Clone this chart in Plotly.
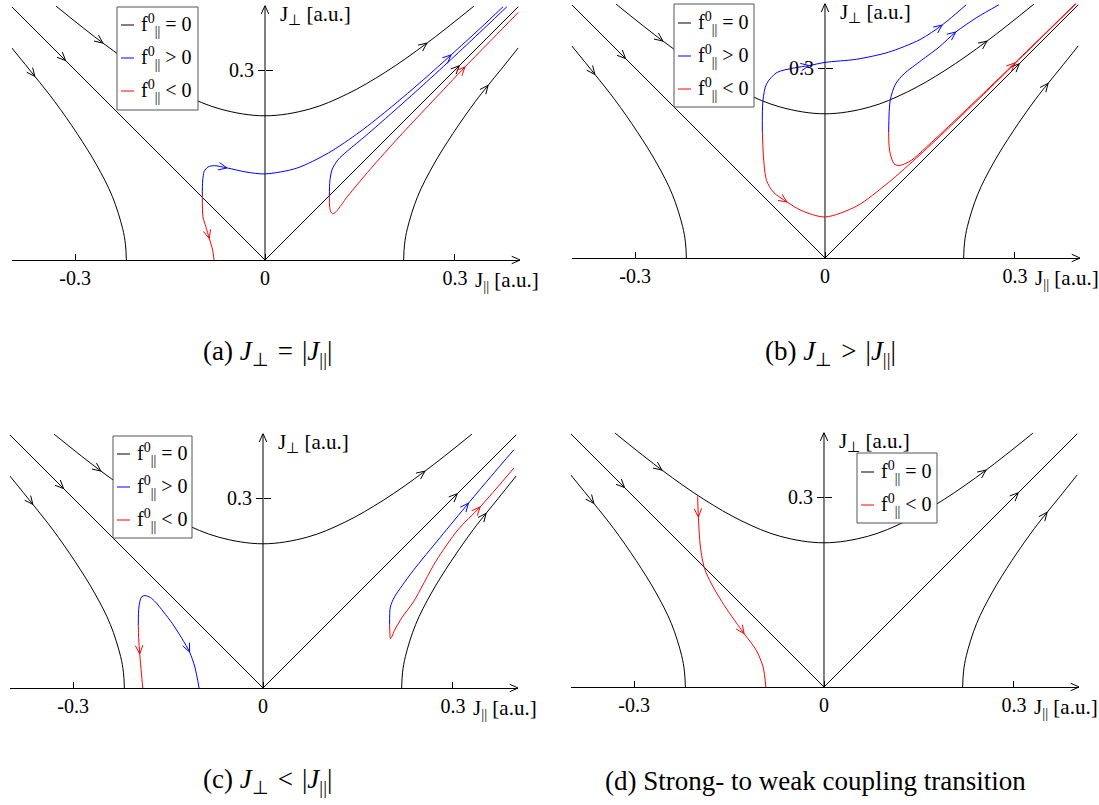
import math
import plotly.graph_objects as go

# ---------------- data (J_parallel, J_perp) ----------------
# black flow lines, identical in all four panels
UPPER_X = [-0.33, -0.256, -0.19, -0.13, -0.07, 0.0, 0.07, 0.13, 0.19, 0.256, 0.33]
UPPER_Y = [0.401, 0.3427, 0.2966, 0.2623, 0.2383, 0.2278, 0.2383, 0.2623, 0.2966, 0.3427, 0.401]
DIAG_X = [-0.4, -0.315, 0.0, 0.307, 0.4]
DIAG_Y = [0.4, 0.315, 0.0, 0.307, 0.4]
LEFT_X = [-0.400, -0.3635, -0.332, -0.297, -0.266, -0.241, -0.225, -0.2205, -0.219]
LEFT_Y = [0.335, 0.29, 0.25, 0.2, 0.15, 0.1, 0.05, 0.025, 0.0]
RIGHT_X = [0.219, 0.2205, 0.225, 0.241, 0.266, 0.297, 0.332, 0.3525, 0.372, 0.400]
RIGHT_Y = [0.0, 0.025, 0.05, 0.1, 0.15, 0.2, 0.25, 0.276, 0.3, 0.335]

# panel (a)
A_BLUE1_X = [-0.099, -0.0985, -0.096, -0.090, -0.080, -0.060, -0.030, 0.0, 0.05, 0.10, 0.15, 0.20, 0.25, 0.294, 0.34, 0.376]
A_BLUE1_Y = [0.100, 0.125, 0.140, 0.147, 0.149, 0.1455, 0.139, 0.136, 0.145, 0.169, 0.2025, 0.242, 0.2846, 0.324, 0.366, 0.400]
A_BLUE2_X = [0.1017, 0.1025, 0.106, 0.115, 0.13, 0.16, 0.2, 0.25, 0.3, 0.35, 0.382]
A_BLUE2_Y = [0.100, 0.125, 0.143, 0.158, 0.172, 0.197, 0.232, 0.2766, 0.3225, 0.3695, 0.400]
A_RED1_X = [-0.099, -0.098, -0.0935, -0.088, -0.0827, -0.0805]
A_RED1_Y = [0.100, 0.068, 0.0527, 0.034, 0.0158, 0.0]
A_RED2_X = [0.1017, 0.102, 0.104, 0.107, 0.111, 0.114, 0.130, 0.172, 0.217, 0.264, 0.316, 0.36, 0.400]
A_RED2_Y = [0.100, 0.085, 0.076, 0.073, 0.075, 0.078, 0.100, 0.150, 0.200, 0.250, 0.305, 0.350, 0.391]

# panel (b)
B_BLUE1_X = [-0.099, -0.098, -0.0924, -0.076, -0.050, -0.025, 0.0, 0.05, 0.10, 0.15, 0.185, 0.223]
B_BLUE1_Y = [0.199, 0.249, 0.275, 0.293, 0.300, 0.304, 0.309, 0.314, 0.325, 0.345, 0.368, 0.400]
B_BLUE2_X = [0.1006, 0.103, 0.1115, 0.125, 0.152, 0.18, 0.2066, 0.24, 0.2746]
B_BLUE2_Y = [0.199, 0.249, 0.275, 0.291, 0.312, 0.333, 0.357, 0.38, 0.400]
B_RED1_X = [-0.099, -0.0968, -0.0924, -0.0816, -0.060, -0.038, 0.0, 0.05, 0.10, 0.15, 0.20, 0.25, 0.30, 0.35, 0.397]
B_RED1_Y = [0.199, 0.154, 0.1227, 0.104, 0.0885, 0.0753, 0.0648, 0.082, 0.119, 0.163, 0.210, 0.258, 0.307, 0.356, 0.402]
B_RED2_X = [0.1006, 0.101, 0.103, 0.109, 0.117, 0.136, 0.16, 0.20, 0.25, 0.30, 0.35, 0.397]
B_RED2_Y = [0.199, 0.18, 0.165, 0.149, 0.146, 0.154, 0.175, 0.2124, 0.2599, 0.3083, 0.357, 0.403]

# panel (c)
C_BLUE1_X = [-0.197, -0.196, -0.192, -0.1865, -0.178, -0.170, -0.157, -0.143, -0.128, -0.116, -0.1077, -0.101]
C_BLUE1_Y = [0.099, 0.128, 0.1438, 0.146, 0.143, 0.136, 0.12, 0.1016, 0.078, 0.0569, 0.0332, 0.0]
C_BLUE2_X = [0.200, 0.2012, 0.2077, 0.22, 0.2376, 0.28, 0.3246, 0.36, 0.3964]
C_BLUE2_Y = [0.100, 0.128, 0.1438, 0.162, 0.186, 0.238, 0.292, 0.334, 0.3765]
C_RED1_X = [-0.197, -0.1965, -0.1947, -0.192, -0.190]
C_RED1_Y = [0.099, 0.08, 0.054, 0.0226, 0.0]
C_RED2_X = [0.200, 0.2005, 0.2012, 0.204, 0.2077, 0.22, 0.2376, 0.273, 0.308, 0.343, 0.3964]
C_RED2_Y = [0.100, 0.086, 0.078, 0.082, 0.091, 0.112, 0.136, 0.2, 0.25, 0.286, 0.3475]

# panel (d)
D_RED_X = [-0.1996, -0.1985, -0.1952, -0.1887, -0.1778, -0.156, -0.1262, -0.107, -0.0962, -0.0919]
D_RED_Y = [0.301, 0.2686, 0.221, 0.187, 0.163, 0.1264, 0.0843, 0.058, 0.0316, 0.0]

X_TICKS = [-0.3, 0.0, 0.3]
X_TICK_TEXT = ["-0.3", "0", "0.3"]
Y_TICKS = [0.3]
Y_TICK_TEXT = ["0.3"]

LBL_ZERO = "f<sup>0</sup><sub>||</sub> = 0"
LBL_POS = "f<sup>0</sup><sub>||</sub> > 0"
LBL_NEG = "f<sup>0</sup><sub>||</sub> < 0"
XLABEL = "J<sub>||</sub> [a.u.]"
YLABEL = "J<sub>\u22a5</sub> [a.u.]"
CAPTIONS = [
    "(a) <i>J</i><sub>\u22a5</sub>\u2004=\u2004|<i>J</i><sub>||</sub>|",
    "(b) <i>J</i><sub>\u22a5</sub>\u2004>\u2004|<i>J</i><sub>||</sub>|",
    "(c) <i>J</i><sub>\u22a5</sub>\u2004<\u2004|<i>J</i><sub>||</sub>|",
    "(d) Strong- to weak coupling transition",
]

# ---------------- layout ----------------
W, H = 1099, 805
SCALE = 633.0           # pixels per data unit (equal on both axes)
XMIN, XMAX, YMAX = -0.4, 0.403, 0.402
YPAD = 0.012            # room below J_perp = 0 for the axis arrowhead
FONT = "Liberation Serif"
BLACK, BLUE, RED = "#000000", "#0000ff", "#ff0000"
HEAD_LEN = 0.0145       # arrowhead arm length (data units)
HEAD_HALF = math.radians(24)

BLACK_CURVES = [
    (UPPER_X, UPPER_Y, [1, 9], "spline"),
    (DIAG_X, DIAG_Y, [1, 3], "linear"),
    (LEFT_X, LEFT_Y, [1], "spline"),
    (RIGHT_X, RIGHT_Y, [7], "spline"),
]

PANELS = [
    dict(origin=(265, 260), caption_px=(267, 353),
         legend_box=(117, 7, 198, 110), legend_rows=[25, 58, 91], legend_x=121,
         blue=[(A_BLUE1_X, A_BLUE1_Y, [5, 13]), (A_BLUE2_X, A_BLUE2_Y, [])],
         red=[(A_RED1_X, A_RED1_Y, [3]), (A_RED2_X, A_RED2_Y, [10])]),
    dict(origin=(825, 258), caption_px=(830, 353),
         legend_box=(674, 4, 754, 107), legend_rows=[23, 56, 89], legend_x=678,
         blue=[(B_BLUE1_X, B_BLUE1_Y, [5, 10]), (B_BLUE2_X, B_BLUE2_Y, [6])],
         red=[(B_RED1_X, B_RED1_Y, [4]), (B_RED2_X, B_RED2_Y, [9])]),
    dict(origin=(263, 688), caption_px=(267, 781),
         legend_box=(113, 436, 192, 538), legend_rows=[454, 487, 520], legend_x=117,
         blue=[(C_BLUE1_X, C_BLUE1_Y, [9]), (C_BLUE2_X, C_BLUE2_Y, [6])],
         red=[(C_RED1_X, C_RED1_Y, [2]), (C_RED2_X, C_RED2_Y, [9])]),
    dict(origin=(824, 687), caption_px=(815, 781),
         legend_box=(857, 453, 937, 523), legend_rows=[472, 505], legend_x=861,
         blue=[],
         red=[(D_RED_X, D_RED_Y, [1, 6])]),
]


def head(px, py, ang, hx, hy):
    """open chevron at (px, py) pointing along angle ang"""
    hx += [px - HEAD_LEN * math.cos(ang + HEAD_HALF), px,
           px - HEAD_LEN * math.cos(ang - HEAD_HALF), None]
    hy += [py - HEAD_LEN * math.sin(ang + HEAD_HALF), py,
           py - HEAD_LEN * math.sin(ang - HEAD_HALF), None]


def heads_on(xs, ys, idxs, hx, hy):
    for i in idxs:
        ang = math.atan2(ys[i + 1] - ys[i - 1], xs[i + 1] - xs[i - 1])
        head(xs[i], ys[i], ang, hx, hy)


fig = go.Figure()
annotations = []
shapes = []
layout_axes = {}
tickfont = dict(family=FONT, size=20, color=BLACK)

for k, p in enumerate(PANELS):
    n = k + 1
    sfx = "" if n == 1 else str(n)
    xr, yr = "x" + sfx, "y" + sfx
    yl, yrt = "y" + str(4 + n), "y" + str(8 + n)
    ox, oy = p["origin"]
    xd = [(ox + XMIN * SCALE) / W, (ox + XMAX * SCALE) / W]
    ytop = 1 - (oy - YMAX * SCALE) / H
    yd_plot = [1 - (oy + YPAD * SCALE) / H, ytop]
    yd_axis = [1 - oy / H, ytop]

    groups = [(BLACK, LBL_ZERO, [(c[0], c[1], c[2], c[3]) for c in BLACK_CURVES]),
              (BLUE, LBL_POS, [(c[0], c[1], c[2], "spline") for c in p["blue"]]),
              (RED, LBL_NEG, [(c[0], c[1], c[2], "spline") for c in p["red"]])]
    legend_entries = []
    for color, label, curves in groups:
        if not curves:
            continue
        legend_entries.append((color, label))
        hx, hy = [], []
        for xs, ys, arr, shape in curves:
            fig.add_trace(go.Scatter(
                x=xs, y=ys, mode="lines", xaxis=xr, yaxis=yr,
                line=dict(color=color, width=1, shape=shape,
                          smoothing=1.0 if color == BLACK else 0.8),
                name=label, showlegend=False, hoverinfo="skip"))
            heads_on(xs, ys, arr, hx, hy)
        if color == BLACK:
            head(XMAX, 0.0, 0.0, hx, hy)            # J_par axis arrow
            head(0.0, YMAX, math.pi / 2, hx, hy)    # J_perp axis arrow
            fig.add_trace(go.Scatter(x=[0.0, 0.0], y=[0.0, YMAX], mode="lines", xaxis=xr,
                                     yaxis=yr, line=dict(color=BLACK, width=1),
                                     showlegend=False, hoverinfo="skip"))
        if hx:
            fig.add_trace(go.Scatter(x=hx, y=hy, mode="lines", xaxis=xr, yaxis=yr,
                                     line=dict(color=color, width=1), showlegend=False,
                                     hoverinfo="skip", connectgaps=False))

    # empty traces so the tick-only J_perp axes exist
    for ya in (yl, yrt):
        fig.add_trace(go.Scatter(x=[None], y=[None], xaxis=xr, yaxis=ya, mode="lines",
                                 line=dict(color=BLACK, width=1),
                                 showlegend=False, hoverinfo="skip"))

    layout_axes["xaxis" + sfx] = dict(
        domain=xd, range=[XMIN, XMAX], anchor="free", position=1 - oy / H,
        showgrid=False, zeroline=False, showline=True, linecolor=BLACK, linewidth=1,
        ticks="inside", ticklen=6, tickcolor=BLACK, tickvals=X_TICKS, ticktext=X_TICK_TEXT,
        tickfont=tickfont, fixedrange=True)
    layout_axes["yaxis" + sfx] = dict(
        domain=yd_plot, range=[-YPAD, YMAX], anchor=xr, visible=False, fixedrange=True)
    layout_axes["yaxis" + str(4 + n)] = dict(
        domain=yd_axis, range=[0, YMAX], anchor="free", position=ox / W, side="left",
        showgrid=False, zeroline=False, showline=False, ticks="outside", ticklen=7,
        tickcolor=BLACK, tickvals=Y_TICKS, ticktext=Y_TICK_TEXT, tickfont=tickfont,
        fixedrange=True)
    layout_axes["yaxis" + str(8 + n)] = dict(
        domain=yd_axis, range=[0, YMAX], anchor="free", position=ox / W, side="right",
        showgrid=False, zeroline=False, showline=False, ticks="outside", ticklen=7,
        tickcolor=BLACK, tickvals=Y_TICKS, showticklabels=False, fixedrange=True)

    # axis titles
    annotations.append(dict(x=0.02, y=0.387, xref=xr, yref=yr, text=YLABEL, showarrow=False,
                            xanchor="left", yanchor="middle",
                            font=dict(family=FONT, size=21, color=BLACK)))
    annotations.append(dict(x=0.328, y=0.0, yshift=-21, xref=xr, yref=yr, text=XLABEL,
                            showarrow=False, xanchor="left", yanchor="middle",
                            font=dict(family=FONT, size=21, color=BLACK)))
    # caption
    cx, cy = p["caption_px"]
    annotations.append(dict(x=cx / W, y=1 - cy / H, xref="paper", yref="paper",
                            text=CAPTIONS[k], showarrow=False, xanchor="center",
                            yanchor="middle", font=dict(family=FONT, size=27, color=BLACK)))

    # legend box (drawn above the curves)
    bx0, by0, bx1, by1 = p["legend_box"]
    shapes.append(dict(type="rect", xref="paper", yref="paper", layer="above",
                       x0=bx0 / W, x1=bx1 / W, y0=1 - by1 / H, y1=1 - by0 / H,
                       fillcolor="white", line=dict(color="#555555", width=1)))
    sx = p["legend_x"]
    for (color, label), ry in zip(legend_entries, p["legend_rows"]):
        shapes.append(dict(type="line", xref="paper", yref="paper", layer="above",
                           x0=sx / W, x1=(sx + 13) / W, y0=1 - ry / H, y1=1 - ry / H,
                           line=dict(color=color, width=1)))
        annotations.append(dict(x=(sx + 18) / W, y=1 - ry / H, xref="paper",
                                yref="paper", text=label, showarrow=False,
                                xanchor="left", yanchor="middle",
                                font=dict(family=FONT, size=20, color=BLACK)))

fig.update_layout(
    width=W, height=H, margin=dict(l=0, r=0, t=0, b=0),
    paper_bgcolor="white", plot_bgcolor="rgba(0,0,0,0)",
    showlegend=False, annotations=annotations, shapes=shapes, **layout_axes)

fig.write_html("out.html")
